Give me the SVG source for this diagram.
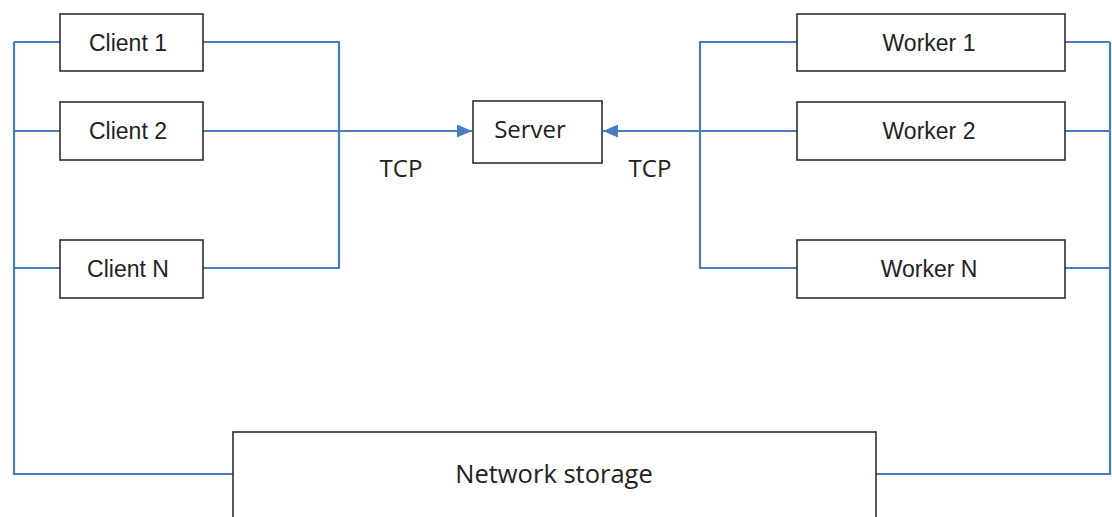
<svg xmlns="http://www.w3.org/2000/svg" width="1112" height="517" viewBox="0 0 1112 517">
<style>
.box{fill:#fff;stroke:#222;stroke-width:1.5}
.ln{fill:none;stroke:#4a7ebb;stroke-width:2.2}
.a{font-family:"Liberation Sans",Arial,sans-serif;font-size:23px;fill:#222;text-anchor:middle}
.c{font-family:"Open Sans","Noto Sans",sans-serif;font-size:24px;fill:#222;text-anchor:middle}
.s{font-size:25.5px}
</style>
<defs>
<marker id="arr" viewBox="0 0 15 13" refX="15" refY="6.5" markerWidth="15" markerHeight="13" markerUnits="userSpaceOnUse" orient="auto">
<path d="M0,0 L15,6.5 L0,13 Z" fill="#4a7ebb"/>
</marker>
</defs>
<g id="connectors">
<path class="ln" d="M14,42 H60 M14,131 H60 M14,268 H60 M14,42 V474 H233"/>
<path class="ln" d="M203,42 H339 V268 H203"/>
<path class="ln" d="M203,131 H472" marker-end="url(#arr)"/>
<path class="ln" d="M797,42 H700 V268 H797"/>
<path class="ln" d="M797,131 H603" marker-end="url(#arr)"/>
<path class="ln" d="M1065,42 H1110 M1065,131 H1110 M1065,268 H1110 M1110,42 V474 H876"/>
</g>
<g id="client1"><rect class="box" x="60" y="14" width="143" height="57"/><text class="a" x="128" y="51">Client 1</text></g>
<g id="client2"><rect class="box" x="60" y="102" width="143" height="58"/><text class="a" x="128" y="139">Client 2</text></g>
<g id="clientN"><rect class="box" x="60" y="240" width="143" height="58"/><text class="a" x="128" y="277">Client N</text></g>
<g id="server"><rect class="box" x="473" y="101" width="129" height="62"/><text class="c" x="530" y="138">Server</text></g>
<g id="tcp-left"><text class="c" x="401" y="177">TCP</text></g>
<g id="tcp-right"><text class="c" x="650" y="177">TCP</text></g>
<g id="worker1"><rect class="box" x="797" y="14" width="268" height="57"/><text class="a" x="929" y="51">Worker 1</text></g>
<g id="worker2"><rect class="box" x="797" y="102" width="268" height="58"/><text class="a" x="929" y="139">Worker 2</text></g>
<g id="workerN"><rect class="box" x="797" y="240" width="268" height="58"/><text class="a" x="929" y="277">Worker N</text></g>
<g id="storage"><rect class="box" x="233" y="432" width="643" height="100"/><text class="c s" x="554" y="483">Network storage</text></g>
</svg>
